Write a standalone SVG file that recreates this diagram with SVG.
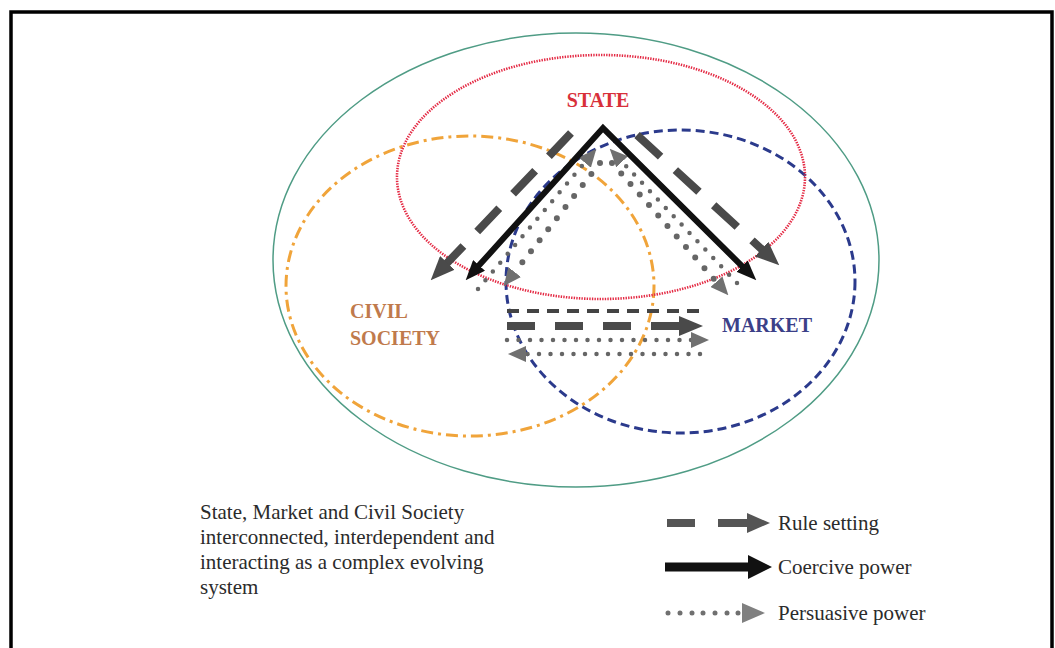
<svg xmlns="http://www.w3.org/2000/svg" width="1055" height="648" viewBox="0 0 1055 648">
<style>
text { font-family: "Liberation Serif", "Times New Roman", serif; }
.lbl { font-weight: bold; font-size: 20px; }
.leg { font-size: 21px; fill: #2b2b2b; }
.ell { fill: none; }
.dash { fill: none; stroke: #4a4a4a; stroke-width: 8; stroke-dasharray: 32 20; }
.thin { fill: none; stroke: #444; stroke-width: 4; stroke-dasharray: 12 8; }
.solid { fill: none; stroke: #111; stroke-width: 6; stroke-linejoin: miter; }
.dotS { fill: none; stroke: #666; stroke-width: 4.5; stroke-linecap: round; stroke-dasharray: 0 11.5; }
.dotB { fill: none; stroke: #666; stroke-width: 6; stroke-linecap: round; stroke-dasharray: 0 14; }
</style>
<defs>
<marker id="hBlack" viewBox="0 0 20 16" refX="1" refY="8" markerWidth="20" markerHeight="16" markerUnits="userSpaceOnUse" orient="auto-start-reverse"><path d="M0,0 L20,8 L0,16 z" fill="#111"/></marker>
<marker id="hDash" viewBox="0 0 24 20" refX="1" refY="10" markerWidth="24" markerHeight="20" markerUnits="userSpaceOnUse" orient="auto-start-reverse"><path d="M0,0 L24,10 L0,20 z" fill="#4a4a4a"/></marker>
<marker id="hDot" viewBox="0 0 18 16" refX="1" refY="8" markerWidth="18" markerHeight="16" markerUnits="userSpaceOnUse" orient="auto-start-reverse"><path d="M0,0 L18,8 L0,16 z" fill="#707070"/></marker>
</defs>
<rect x="0" y="0" width="1055" height="648" fill="#fff"/>
<rect x="11" y="12" width="1041" height="700" fill="none" stroke="#000" stroke-width="3.5"/>

<g id="system">
<ellipse class="ell" cx="576" cy="260" rx="303" ry="227" stroke="#4f9c85" stroke-width="1.5"/>
</g>
<g id="civil-society">
<ellipse class="ell" cx="470" cy="286" rx="184" ry="150" stroke="#f0a43a" stroke-width="3" stroke-dasharray="12 5 3 5"/>
<text class="lbl" x="350" y="318" fill="#c07a4c">CIVIL</text>
<text class="lbl" x="350" y="345" fill="#c07a4c">SOCIETY</text>
</g>
<g id="market">
<ellipse class="ell" cx="680.5" cy="281.5" rx="174.5" ry="151.5" stroke="#2b3a8c" stroke-width="3" stroke-dasharray="9 5"/>
<text class="lbl" x="722" y="332" fill="#3b4088">MARKET</text>
</g>
<g id="state">
<ellipse class="ell" cx="601" cy="177" rx="204" ry="122" stroke="#e42a44" stroke-width="2.6" stroke-dasharray="1.4 1.2"/>
<text class="lbl" x="598" y="107" fill="#d8303a" text-anchor="middle">STATE</text>
</g>

<g id="connectors">
<!-- rule setting -->
<path class="dash" d="M571,133 L446.6,263.6" marker-end="url(#hDash)"/>
<path class="dash" d="M637,135 L762.3,249.8" marker-end="url(#hDash)"/>
<!-- persuasive -->
<path class="dotS" d="M478,289 L585.4,161.8" marker-end="url(#hDot)"/>
<path class="dotB" d="M600,163 L514.1,272.8" marker-end="url(#hDot)"/>
<path class="dotS" d="M737,283 L621.4,161.1" marker-end="url(#hDot)"/>
<path class="dotB" d="M612,163 L717.1,282.5" marker-end="url(#hDot)"/>
<!-- coercive -->
<path class="solid" d="M478.4,266.1 L603,128 L742.8,266.9" marker-start="url(#hBlack)" marker-end="url(#hBlack)"/>
<!-- civil society <-> market -->
<path class="thin" d="M507,311 L702,311"/>
<path class="dash" style="stroke-dasharray:28 20" d="M507,326 L680,326" marker-end="url(#hDash)"/>
<path class="dotS" d="M507,340 L692,340" marker-end="url(#hDot)"/>
<path class="dotS" d="M700,354 L525,354" marker-end="url(#hDot)"/>
</g>

<g id="caption">
<text class="leg" x="200" y="519">State, Market and Civil Society</text>
<text class="leg" x="200" y="544">interconnected, interdependent and</text>
<text class="leg" x="200" y="569">interacting as a complex evolving</text>
<text class="leg" x="200" y="594">system</text>
</g>

<g id="legend">
<line x1="667" y1="523" x2="695" y2="523" stroke="#555" stroke-width="8"/>
<line x1="718" y1="523" x2="748" y2="523" stroke="#555" stroke-width="8"/>
<polygon points="747,513 770,523 747,533" fill="#555"/>
<text class="leg" x="778" y="530">Rule setting</text>
<line x1="665" y1="567" x2="750" y2="567" stroke="#111" stroke-width="9"/>
<polygon points="748,555 772,567 748,579" fill="#111"/>
<text class="leg" x="778" y="574">Coercive power</text>
<g fill="#707070">
<circle cx="668" cy="613" r="2.5"/><circle cx="680" cy="613" r="2.5"/><circle cx="692" cy="613" r="2.5"/><circle cx="703" cy="613" r="2.5"/><circle cx="715" cy="613" r="2.5"/><circle cx="727" cy="613" r="2.5"/><circle cx="738" cy="613" r="2.5"/>
</g>
<polygon points="742,603 765,613 742,623" fill="#808080"/>
<text class="leg" x="778" y="620">Persuasive power</text>
</g>
</svg>
